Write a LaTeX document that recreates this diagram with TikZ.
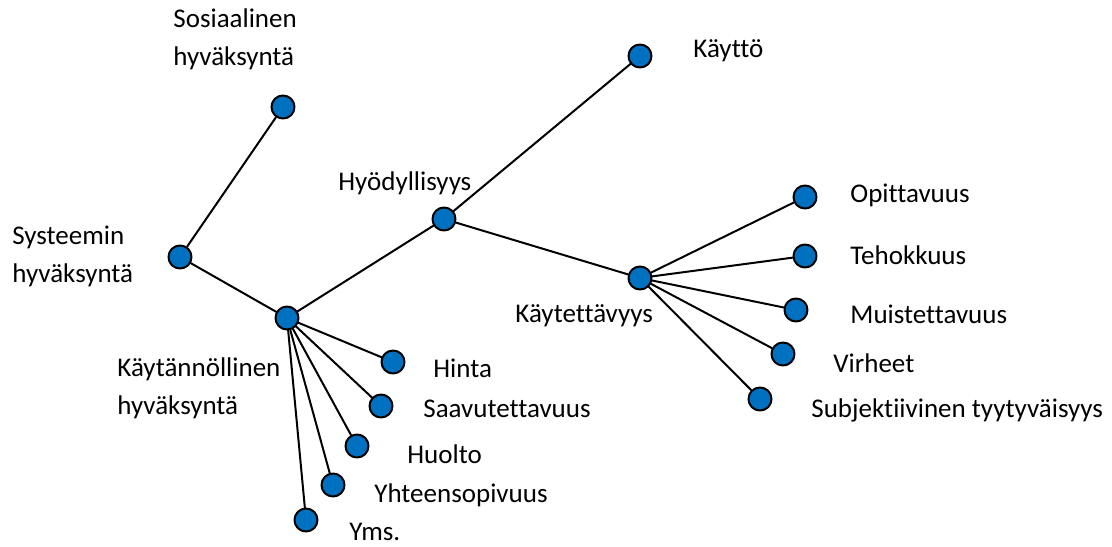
\documentclass[tikz,border=0pt]{standalone}
\usepackage{fontspec}
\setmainfont[Ligatures=NoCommon]{Carlito}
\definecolor{dotblue}{HTML}{0070C0}
\begin{document}
\begin{tikzpicture}[x=0.5pt,y=-0.5pt,font=\fontsize{13.5}{19}\selectfont,line join=round,line cap=round,
  pt/.style={circle,draw,line width=1pt,fill=dotblue,minimum size=11.5pt,inner sep=0pt},
  lbl/.style={anchor=base west,align=left,inner sep=0pt}]
\useasboundingbox (0,0) rectangle (1112,546);
% pisteet
\node[pt] (sos) at (283,107) {};
\node[pt] (sys) at (180,257) {};
\node[pt] (kay) at (287,318) {};
\node[pt] (hyo) at (444,219) {};
\node[pt] (kayt) at (640,56) {};
\node[pt] (kv) at (640,278) {};
\node[pt] (opi) at (805,197) {};
\node[pt] (teh) at (805,256) {};
\node[pt] (mui) at (796,310) {};
\node[pt] (vir) at (783,354) {};
\node[pt] (sub) at (760,399) {};
\node[pt] (hin) at (393,362) {};
\node[pt] (saa) at (381,406) {};
\node[pt] (huo) at (357,446) {};
\node[pt] (yht) at (333,485) {};
\node[pt] (yms) at (306,520) {};
% tekstit (kaksirivisissä base = alarivi)
\node[lbl] (sosT) at (173,65) {Sosiaalinen\\hyväksyntä};
\node[lbl] (sysT) at (12,282) {Systeemin\\hyväksyntä};
\node[lbl] (kayT) at (117,414) {Käytännöllinen\\hyväksyntä};
\node[lbl] (hyoT) at (338,190) {Hyödyllisyys};
\node[lbl] (kaytT) at (693,57) {Käyttö};
\node[lbl] (kvT) at (515,322) {Käytettävyys};
\node[lbl] (opiT) at (850,202) {Opittavuus};
\node[lbl] (tehT) at (850,264) {Tehokkuus};
\node[lbl] (muiT) at (850,323) {Muistettavuus};
\node[lbl] (virT) at (833,372) {Virheet};
\node[lbl] (subT) at (811,417) {Subjektiivinen tyytyväisyys};
\node[lbl] (hinT) at (433,377) {Hinta};
\node[lbl] (saaT) at (423,417) {Saavutettavuus};
\node[lbl] (huoT) at (407,463) {Huolto};
\node[lbl] (yhtT) at (374,502) {Yhteensopivuus};
\node[lbl] (ymsT) at (349,540) {Yms.};
% viivat
\draw[line width=1pt] (sys)--(sos) (sys)--(kay) (kay)--(hyo) (hyo)--(kayt) (hyo)--(kv);
\foreach \n in {opi,teh,mui,vir,sub} \draw[line width=1pt] (kv)--(\n);
\foreach \n in {hin,saa,huo,yht,yms} \draw[line width=1pt] (kay)--(\n);
\end{tikzpicture}
\end{document}
